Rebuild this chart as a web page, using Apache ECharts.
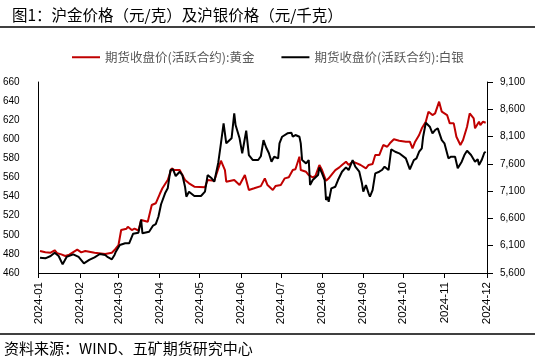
<!DOCTYPE html>
<html><head><meta charset="utf-8">
<script src="https://cdn.jsdelivr.net/npm/echarts@6/dist/echarts.min.js"></script>
<style>html,body{margin:0;padding:0;background:#fff}#c{width:535px;height:360px}</style>
</head><body><div id="c"></div>
<script>
const titleText = '图1：沪金价格（元/克）及沪银价格（元/千克）';
const sourceText = '资料来源：WIND、五矿期货研究中心';
const seriesNames = ['期货收盘价(活跃合约):黄金', '期货收盘价(活跃合约):白银'];

const goldDates = ['2024-01-02','2024-01-06','2024-01-10','2024-01-13','2024-01-15','2024-01-18','2024-01-21','2024-01-24','2024-01-30',
'2024-02-02','2024-02-05','2024-02-12','2024-02-20','2024-02-25','2024-02-27',
'2024-03-01','2024-03-03','2024-03-07','2024-03-08','2024-03-11','2024-03-13','2024-03-16','2024-03-18','2024-03-23','2024-03-26','2024-03-29',
'2024-04-01','2024-04-03','2024-04-07','2024-04-10','2024-04-12','2024-04-16','2024-04-17','2024-04-20','2024-04-23','2024-04-27',
'2024-05-05','2024-05-07','2024-05-12','2024-05-17','2024-05-20','2024-05-21','2024-05-27','2024-05-31',
'2024-06-04','2024-06-07','2024-06-11','2024-06-16','2024-06-19','2024-06-21','2024-06-25','2024-06-27',
'2024-07-01','2024-07-04','2024-07-07','2024-07-10','2024-07-12','2024-07-15','2024-07-16','2024-07-20','2024-07-22','2024-07-25','2024-07-27','2024-07-30',
'2024-08-01','2024-08-04','2024-08-06','2024-08-09','2024-08-11','2024-08-14','2024-08-16','2024-08-19','2024-08-21','2024-08-24','2024-08-26','2024-08-30',
'2024-09-03','2024-09-05','2024-09-08','2024-09-10','2024-09-13','2024-09-16','2024-09-19','2024-09-21','2024-09-24','2024-09-28',
'2024-10-03','2024-10-06','2024-10-08','2024-10-10','2024-10-13','2024-10-15','2024-10-18','2024-10-20','2024-10-23','2024-10-25','2024-10-28','2024-10-30',
'2024-11-03','2024-11-05','2024-11-08','2024-11-10','2024-11-13','2024-11-15','2024-11-18','2024-11-20','2024-11-23','2024-11-24','2024-11-27','2024-11-28','2024-11-30',
'2024-12-02'];
const goldValues = [483.0,481.7,481.3,483.8,480.6,479.5,477.8,479.2,484.4,
481.6,483.0,481.3,479.9,481.3,484.0,
489.3,505.0,506.4,508.5,505.0,506.4,504.5,515.5,513.7,531.2,533.0,
542.7,548.7,557.4,569.6,567.8,567.8,566.0,557.4,553.9,550.4,
549.7,557.4,556.6,577.6,567.8,555.6,557.4,552.1,
562.6,546.9,548.7,551.0,559.1,552.1,546.9,551.0,
552.1,559.1,560.2,567.8,568.6,581.8,567.8,566.0,562.6,560.2,561.6,573.1,
567.8,556.6,559.1,564.4,567.8,570.6,573.1,576.5,573.1,576.5,575.5,573.1,
569.6,573.1,574.2,583.5,583.5,594.0,592.2,595.8,600.0,598.5,
597.5,597.5,590.5,597.5,604.5,611.5,618.4,628.9,625.4,627.2,639.4,628.9,
625.4,616.7,616.7,602.7,594.0,599.3,613.2,627.2,622.0,611.5,618.4,614.9,618.4,
617.3];

const silverDates = ['2024-01-02','2024-01-06','2024-01-10','2024-01-13','2024-01-16','2024-01-19','2024-01-22','2024-01-27','2024-01-28','2024-01-31',
'2024-02-04','2024-02-08','2024-02-12','2024-02-16','2024-02-20','2024-02-22','2024-02-25','2024-02-27','2024-02-28',
'2024-03-02','2024-03-06','2024-03-09','2024-03-12','2024-03-16','2024-03-18','2024-03-19','2024-03-24','2024-03-27','2024-03-29','2024-03-31',
'2024-04-02','2024-04-05','2024-04-07','2024-04-09','2024-04-11','2024-04-13','2024-04-16','2024-04-18','2024-04-20','2024-04-21','2024-04-23','2024-04-27',
'2024-05-02','2024-05-05','2024-05-07','2024-05-10','2024-05-12','2024-05-15','2024-05-17','2024-05-19','2024-05-21','2024-05-25','2024-05-27','2024-05-28','2024-05-31',
'2024-06-02','2024-06-05','2024-06-07','2024-06-10','2024-06-14','2024-06-16','2024-06-18','2024-06-20','2024-06-22','2024-06-24','2024-06-26','2024-06-29','2024-06-30',
'2024-07-02','2024-07-06','2024-07-09','2024-07-10','2024-07-12','2024-07-15','2024-07-16','2024-07-17','2024-07-20','2024-07-22','2024-07-23','2024-07-25','2024-07-26','2024-07-29','2024-07-30',
'2024-08-01','2024-08-03','2024-08-04','2024-08-05','2024-08-06','2024-08-08','2024-08-11','2024-08-13','2024-08-16','2024-08-19','2024-08-21','2024-08-24','2024-08-26','2024-08-29','2024-08-31',
'2024-09-01','2024-09-03','2024-09-05','2024-09-06','2024-09-08','2024-09-10','2024-09-13','2024-09-15','2024-09-17','2024-09-20','2024-09-22','2024-09-25','2024-09-28',
'2024-10-03','2024-10-06','2024-10-09','2024-10-11','2024-10-13','2024-10-15','2024-10-16','2024-10-18','2024-10-21','2024-10-23','2024-10-25','2024-10-27','2024-10-30',
'2024-11-01','2024-11-04','2024-11-06','2024-11-09','2024-11-11','2024-11-14','2024-11-16','2024-11-18','2024-11-21','2024-11-24','2024-11-26','2024-11-27','2024-11-29',
'2024-12-01','2024-12-02'];
const silverValues = [5880,5869,5911,5972,5911,5759,5895,5942,5961,5895,
5778,5840,5887,5948,5930,5890,5851,5930,5990,
6113,6144,6144,6320,6339,6575,6327,6357,6470,6495,6631,
6860,7060,7152,7487,7500,7377,7456,7395,7181,6998,7090,7011,
7011,7090,7395,7335,7273,7621,7976,8342,7976,8068,8526,8311,8068,
7793,8207,7762,7670,7670,7740,8036,7900,7800,7639,7731,7701,7976,
8097,8159,8171,8097,8128,8097,7976,7670,7609,7670,7212,7304,7335,7395,7536,
7426,7304,6937,6998,6906,7152,7181,7304,7456,7536,7487,7670,7548,7456,7243,
7090,7212,7060,6998,7120,7426,7456,7487,7548,7487,7866,7822,7793,
7701,7500,7670,7701,7822,7884,8097,8353,8280,8159,8220,8250,8036,
7976,7701,7731,7731,7518,7639,7762,7841,7762,7639,7683,7579,7670,
7804,7822];

const leftAxis = {min: 460, max: 660, interval: 20};
const rightAxis = {min: 5600, max: 9100, interval: 500};
const xRange = {min: '2024-01-01', max: '2024-12-03'};

const DAY = 86400000;
const toTs = s => { const p = s.split('-').map(Number); return new Date(p[0], p[1]-1, p[2]).getTime(); };
const zip = (ds, vs) => ds.map((d, i) => [toTs(d), vs[i]]);

const numFont = '"Liberation Sans", Arial, sans-serif';
const cjkFont = '"Noto Sans CJK SC", sans-serif';

const chart = echarts.init(document.getElementById('c'), null, {renderer: 'canvas'});
chart.setOption({
  animation: false,
  backgroundColor: '#fff',
  grid: {left: 37, right: 48, top: 82, bottom: 87, containLabel: false},
  legend: {
    left: 67, top: 46, itemGap: 27, itemWidth: 28, itemHeight: 2, icon: 'rect',
    textStyle: {color: '#595959', fontSize: 12.5, fontFamily: cjkFont},
    data: seriesNames
  },
  xAxis: {
    type: 'time', min: toTs(xRange.min), max: toTs(xRange.max),
    splitNumber: 11, minInterval: 28 * DAY, maxInterval: 31 * DAY,
    axisLine: {show: true, lineStyle: {color: '#000', width: 1}},
    axisTick: {show: true, length: 5, lineStyle: {color: '#000'}},
    splitLine: {show: false},
    axisLabel: {
      rotate: 90, margin: 9, color: '#000', fontSize: 11.5, fontFamily: numFont,
      showMinLabel: true, showMaxLabel: true, hideOverlap: false,
      formatter: v => { const d = new Date(v); return d.getFullYear() + '-' + String(d.getMonth() + 1).padStart(2, '0'); }
    }
  },
  yAxis: [{
    type: 'value', position: 'left', min: leftAxis.min, max: leftAxis.max, interval: leftAxis.interval,
    axisLine: {show: true, lineStyle: {color: '#000', width: 1}},
    axisTick: {show: false}, splitLine: {show: false},
    axisLabel: {color: '#000', fontSize: 10, fontFamily: numFont, margin: 19}
  }, {
    type: 'value', position: 'right', min: rightAxis.min, max: rightAxis.max, interval: rightAxis.interval,
    axisLine: {show: true, lineStyle: {color: '#000', width: 1}},
    axisTick: {show: true, inside: false, length: 6, lineStyle: {color: '#000'}}, splitLine: {show: false},
    axisLabel: {color: '#000', fontSize: 10, fontFamily: numFont, margin: 13,
      formatter: v => v.toLocaleString('en-US')}
  }],
  series: [{
    name: seriesNames[0], type: 'line', yAxisIndex: 0, showSymbol: false, symbol: 'none',
    data: zip(goldDates, goldValues),
    lineStyle: {color: '#C00000', width: 2}, itemStyle: {color: '#C00000'}
  }, {
    name: seriesNames[1], type: 'line', yAxisIndex: 1, showSymbol: false, symbol: 'none',
    data: zip(silverDates, silverValues),
    lineStyle: {color: '#000000', width: 2}, itemStyle: {color: '#000000'}
  }],
  graphic: [
    {type: 'text', left: 12, top: 7, style: {text: titleText, fontSize: 15.5, fontFamily: cjkFont, fill: '#000'}},
    {type: 'line', shape: {x1: 0, y1: 27, x2: 535, y2: 27}, style: {stroke: '#000', lineWidth: 1.5}},
    {type: 'line', shape: {x1: 0, y1: 334, x2: 535, y2: 334}, style: {stroke: '#000', lineWidth: 1.5}},
    {type: 'text', left: 4, top: 341, style: {text: sourceText, fontSize: 15, fontFamily: cjkFont, fill: '#000'}}
  ]
});
</script>
</body></html>
